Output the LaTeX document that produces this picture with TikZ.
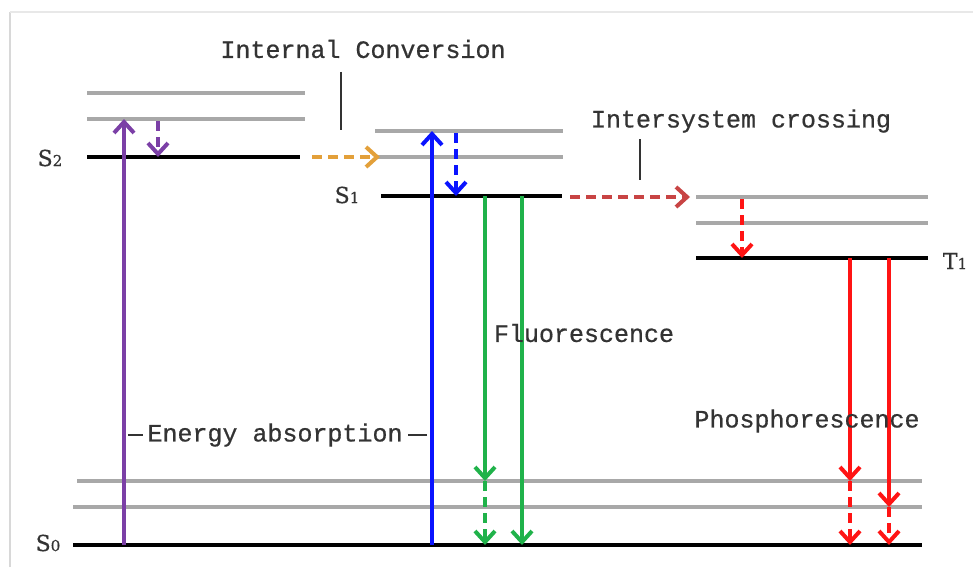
\documentclass[tikz,border=0pt]{standalone}
\usepackage{fontspec}
\setmonofont[FakeBold=0.6]{Liberation Mono}
\newfontfamily\serifS[FakeBold=0.5]{DejaVu Serif}
\usetikzlibrary{arrows.meta}
\definecolor{levelgray}{HTML}{A8A8A8}
\definecolor{textgray}{HTML}{333333}
\definecolor{cpurple}{HTML}{7B3FA6}
\definecolor{corange}{HTML}{E3A03A}
\definecolor{cblue}{HTML}{0A14FF}
\definecolor{cgreen}{HTML}{20B24A}
\definecolor{cred}{HTML}{FF1414}
\definecolor{cdred}{HTML}{C84444}
\definecolor{framegray}{HTML}{D8D8D8}
\begin{document}
\begin{tikzpicture}[x=1pt,y=-1pt,
  lvl/.style={line width=3.6pt,black},
  sublvl/.style={line width=3.2pt,levelgray},
  tr/.style={line width=3.4pt,-{Straight Barb[length=11pt,width=20pt,line width=4pt]}},
  dsh/.style={dash pattern=on 10pt off 6pt},
  lab/.style={font=\ttfamily\fontsize{25}{25}\selectfont,text=textgray,inner sep=0pt},
  st/.style={font=\serifS\fontsize{22}{22}\selectfont,text=textgray,inner sep=0pt},
  pointer/.style={line width=1.4pt,textgray}]
\useasboundingbox (0,0) rectangle (973,567);
\fill[white] (0,0) rectangle (973,567);
% frame
\draw[framegray,line width=2.5pt] (10,567) -- (10,12);
\draw[framegray!60,line width=1.5pt] (10,12) -- (973,12);

% S2 levels
\draw[sublvl] (87,93) -- (305,93);
\draw[sublvl] (87,119) -- (305,119);
\draw[lvl] (87,157) -- (300,157);
% S1 levels
\draw[sublvl] (375,131) -- (563,131);
\draw[sublvl] (375,157) -- (563,157);
\draw[lvl] (381,196) -- (562,196);
% T1 levels
\draw[sublvl] (696,197) -- (928,197);
\draw[sublvl] (696,223) -- (928,223);
\draw[lvl] (696,258) -- (928,258);
% S0 levels
\draw[sublvl] (77,481) -- (922,481);
\draw[sublvl] (73,507) -- (922,507);
\draw[lvl] (73,545) -- (922,545);

% level labels
\node[st] (s2) at (50,158) {S{\fontsize{15}{15}\selectfont 2}};
\node[st] (s1) at (347,195) {S{\fontsize{15}{15}\selectfont 1}};
\node[st] (t1) at (955,261) {T{\fontsize{15}{15}\selectfont 1}};
\node[st] (s0) at (48,543) {S{\fontsize{15}{15}\selectfont 0}};

% coordinates
\coordinate (pa0) at (124,545); \coordinate (pa1) at (124,119);
\coordinate (pd0) at (158,121); \coordinate (pd1) at (158,157);
\coordinate (ic0) at (312,157); \coordinate (ic1) at (380,157);
\coordinate (ba0) at (432,545); \coordinate (ba1) at (432,131);
\coordinate (bd0) at (456,133); \coordinate (bd1) at (456,196);
\coordinate (isc0) at (570,197); \coordinate (isc1) at (690,197);
\coordinate (td0) at (742,199); \coordinate (td1) at (742,258);
\coordinate (ga0) at (485,196); \coordinate (ga1) at (485,481); \coordinate (ga2) at (485,545);
\coordinate (gb0) at (522,196); \coordinate (gb1) at (522,545);
\coordinate (ra0) at (850,258); \coordinate (ra1) at (850,481); \coordinate (ra2) at (850,545);
\coordinate (rb0) at (889,258); \coordinate (rb1) at (889,507); \coordinate (rb2) at (889,545);

% transitions
\draw[tr,cpurple] (pa0) -- (pa1);
\draw[tr,dsh,cpurple] (pd0) -- (pd1);
\draw[tr,dsh,corange] (ic0) -- (ic1);
\draw[tr,cblue] (ba0) -- (ba1);
\draw[tr,dsh,cblue] (bd0) -- (bd1);
\draw[tr,dsh,cdred] (isc0) -- (isc1);
\draw[tr,dsh,cred] (td0) -- (td1);
\draw[tr,cgreen] (ga0) -- (ga1);
\draw[tr,dsh,cgreen] (ga1) -- (ga2);
\draw[tr,cgreen] (gb0) -- (gb1);
\draw[tr,cred] (ra0) -- (ra1);
\draw[tr,dsh,cred] (ra1) -- (ra2);
\draw[tr,cred] (rb0) -- (rb1);
\draw[tr,dsh,cred] (rb1) -- (rb2);

% text labels
\node[lab] (icl) at (363,49) {Internal Conversion};
\coordinate (icp0) at (341,72); \coordinate (icp1) at (341,130);
\draw[pointer] (icp0) -- (icp1);
\node[lab] (iscl) at (741,121) {Intersystem crossing};
\coordinate (iscp0) at (640,139); \coordinate (iscp1) at (640,180);
\draw[pointer] (iscp0) -- (iscp1);
\node[lab] (fl) at (584,333) {Fluorescence};
\node[lab] (ph) at (807,421) {Phosphorescence};
\node[lab] (ea) at (275,435) {Energy absorption};
\coordinate (eal) at (128,435); \coordinate (ear) at (427,435);
\coordinate (eal1) at (143,435); \coordinate (ear1) at (408,435);
\draw[pointer] (eal) -- (eal1);
\draw[pointer] (ear) -- (ear1);
\end{tikzpicture}
\end{document}
